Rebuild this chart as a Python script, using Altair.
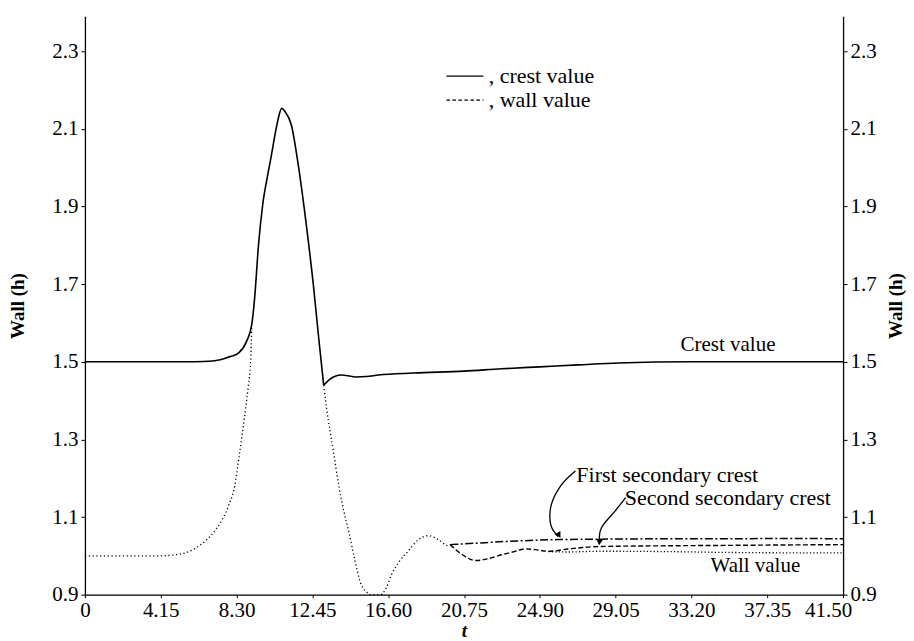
import altair as alt
import pandas as pd

# ---------------- data ----------------
x_ticks = [0, 4.15, 8.30, 12.45, 16.60, 20.75, 24.90, 29.05, 33.20, 37.35, 41.50]
y_ticks = [0.9, 1.1, 1.3, 1.5, 1.7, 1.9, 2.1, 2.3]

crest_t = [0, 3, 6, 7.0, 7.6, 8.0, 8.42, 8.86, 9.13, 9.29, 9.5, 9.73, 10.0, 10.2, 10.44,
           10.6, 10.77, 10.95, 11.3, 11.7, 12.1, 12.5, 12.8, 13.07, 13.4, 13.7, 14.05,
           14.4, 14.8, 15.4, 16.07, 18.0, 20.75, 22.8, 24.9, 27.0, 29.2, 33.2, 37.35, 41.5]
crest_v = [1.5, 1.5, 1.5, 1.502, 1.508, 1.514, 1.523, 1.554, 1.595, 1.664, 1.80, 1.904,
           1.98, 2.03, 2.094, 2.13, 2.153, 2.145, 2.11, 2.0, 1.86, 1.70, 1.56, 1.44, 1.455,
           1.463, 1.466, 1.464, 1.461, 1.462, 1.466, 1.471, 1.476, 1.482, 1.487, 1.492,
           1.497, 1.5, 1.5, 1.5]
crest_break = 13.07  # sharp corner where the crest falls onto the wall value

wall1_t = [0, 1, 2, 3, 4, 5, 5.5, 6.0, 6.6, 7.2, 7.87, 8.2, 8.42, 8.6, 8.8, 8.95, 9.07, 9.13]
wall1_v = [1.0, 1.0, 1.0, 1.0, 1.0, 1.003, 1.008, 1.018, 1.039, 1.07, 1.13, 1.18, 1.25,
           1.31, 1.38, 1.44, 1.50, 1.59]

wall2_t = [13.07, 13.23, 13.6, 13.89, 14.15, 14.43, 14.75, 15.09, 15.4, 15.64, 16.18, 16.5,
           16.78, 17.2, 17.71, 18.26, 18.81, 19.35, 19.9, 20.0]
wall2_v = [1.44, 1.38, 1.27, 1.183, 1.12, 1.065, 0.995, 0.930, 0.908, 0.90, 0.90, 0.918,
           0.951, 0.985, 1.013, 1.042, 1.052, 1.042, 1.026, 1.029]

first_t = [20.0, 20.75, 21.9, 23.0, 24.0, 25.9, 28.0, 31.9, 35.0, 38.0, 41.5]
first_v = [1.029, 1.031, 1.034, 1.037, 1.039, 1.042, 1.043, 1.044, 1.044, 1.045, 1.044]

second_t = [20.0, 20.6, 21.4, 22.1, 22.8, 23.5, 24.1, 24.66, 25.37, 26.5, 28.1, 31.9, 35.0,
            38.0, 41.5]
second_v = [1.029, 1.005, 0.988, 0.993, 1.003, 1.011, 1.018, 1.016, 1.012, 1.018, 1.024,
            1.026, 1.027, 1.028, 1.029]

wall3_t = [25.37, 26.5, 28.1, 31.9, 35.0, 38.0, 41.5]
wall3_v = [1.011, 1.010, 1.012, 1.011, 1.009, 1.008, 1.008]

# annotation texts
center_text = ["Crest value", "Wall value"]
center_t = [35.2, 36.7]
center_v = [1.543, 0.975]
left_text = ["First secondary crest", "Second secondary crest"]
left_t = [26.9, 29.55]
left_v = [1.209, 1.15]

# legend
legend_text = [", crest value", ", wall value"]
legend_text_t = [22.1, 22.1]
legend_v = [2.236, 2.174]
legend_line_t = [19.79, 21.81]

# annotation arrows
arrow1_t = [26.85, 26.08, 25.53, 25.5, 25.9]
arrow1_v = [1.219, 1.183, 1.132, 1.080, 1.050]
arrow2_t = [29.6, 29.03, 28.27, 28.16]
arrow2_v = [1.15, 1.116, 1.072, 1.032]
head_t = [25.95, 28.16]
head_v = [1.053, 1.035]
head_angle = [330, 5]

# ---------------- chart ----------------
FONT = "Liberation Serif"
xscale = alt.Scale(domain=[0, 41.5], nice=False, zero=False)
yscale = alt.Scale(domain=[0.9, 2.39], nice=False, zero=False)

X = alt.X("t:Q", scale=xscale, axis=alt.Axis(
    values=x_ticks, title="t", titleFontStyle="italic", titleFontWeight="bold",
    titleFont=FONT, titleFontSize=19, titlePadding=1, titleColor="black",
    labelExpr="datum.value == 0 ? '0' : format(datum.value, '.2f')",
    labelOffset={"condition": {"test": "datum.value > 41", "value": -15}, "value": 0},
    labelFont=FONT, labelFontSize=21, labelColor="black", labelPadding=2,
    tickSize=3, tickColor="black", domainColor="black", domainWidth=1.3,
    grid=False, labelOverlap=False, labelFlush=False))

Y_none = alt.Y("v:Q", scale=yscale, axis=None)


def frame(t, v):
    return pd.DataFrame({"t": t, "v": v})


def yaxis(orient, pad, baseline):
    return alt.Axis(
        orient=orient, values=y_ticks, format=".1f", title="Wall (h)",
        titleFont=FONT, titleFontWeight="bold", titleFontSize=19, titleColor="black",
        titleAngle=270, titlePadding=pad, titleBaseline=baseline,
        labelFont=FONT, labelFontSize=21, labelColor="black", labelPadding=3,
        tickSize=4, tickColor="black", domainColor="black", domainWidth=1.3,
        grid=False, labelFlush=False)


crest_df = frame(crest_t, crest_v)
crest_a = alt.Chart(crest_df[crest_df.t <= crest_break]).mark_line(
    color="black", strokeWidth=1.6, interpolate="monotone").encode(
    x=X, y=alt.Y("v:Q", scale=yscale, axis=yaxis("left", 24, "bottom")))
crest_b = alt.Chart(crest_df[crest_df.t >= crest_break]).mark_line(
    color="black", strokeWidth=1.6, interpolate="monotone").encode(x=X, y=Y_none)

right_axis = alt.Chart(crest_df).mark_line(
    color="black", strokeWidth=1.6, opacity=0).encode(
    x=X, y=alt.Y("v:Q", scale=yscale, axis=yaxis("right", 10, "top")))

wall1 = alt.Chart(frame(wall1_t, wall1_v)).mark_line(
    color="black", strokeWidth=1.3, strokeDash=[1.2, 2.6], interpolate="monotone").encode(
    x=X, y=Y_none)
wall2 = alt.Chart(frame(wall2_t, wall2_v)).mark_line(
    color="black", strokeWidth=1.3, strokeDash=[1.2, 2.6], interpolate="monotone").encode(
    x=X, y=Y_none)
wall3 = alt.Chart(frame(wall3_t, wall3_v)).mark_line(
    color="black", strokeWidth=1.3, strokeDash=[1.2, 2.2], interpolate="monotone").encode(
    x=X, y=Y_none)
first = alt.Chart(frame(first_t, first_v)).mark_line(
    color="black", strokeWidth=1.5, strokeDash=[8, 2.5, 2, 2.5], interpolate="monotone").encode(
    x=X, y=Y_none)
second = alt.Chart(frame(second_t, second_v)).mark_line(
    color="black", strokeWidth=1.4, strokeDash=[5, 2.5], interpolate="monotone").encode(
    x=X, y=Y_none)

labels_c = alt.Chart(pd.DataFrame({"t": center_t, "v": center_v, "txt": center_text})).mark_text(
    font=FONT, fontSize=21, color="black", baseline="middle", align="center").encode(
    x=X, y=Y_none, text="txt:N")
labels_l = alt.Chart(pd.DataFrame({"t": left_t, "v": left_v, "txt": left_text})).mark_text(
    font=FONT, fontSize=22, color="black", baseline="middle", align="left").encode(
    x=X, y=Y_none, text="txt:N")

arrow_df = pd.concat([
    pd.DataFrame({"t": arrow1_t, "v": arrow1_v, "k": "a", "i": range(len(arrow1_t))}),
    pd.DataFrame({"t": arrow2_t, "v": arrow2_v, "k": "b", "i": range(len(arrow2_t))}),
])
arrows = alt.Chart(arrow_df).mark_line(
    color="black", strokeWidth=1.3, interpolate="cardinal").encode(
    x=X, y=Y_none, detail="k:N", order="i:Q")
heads = alt.Chart(pd.DataFrame({"t": head_t, "v": head_v, "a": head_angle})).mark_point(
    shape="triangle-down", filled=True, color="black", size=45, opacity=1).encode(
    x=X, y=Y_none, angle=alt.Angle("a:Q", scale=None))

legend_lines = alt.Chart(pd.DataFrame({
    "t": legend_line_t + legend_line_t,
    "v": [legend_v[0], legend_v[0], legend_v[1], legend_v[1]],
    "k": ["c", "c", "w", "w"]})).mark_line(color="black", strokeWidth=1.3).encode(
    x=X, y=Y_none, detail="k:N",
    strokeDash=alt.StrokeDash("k:N", scale=alt.Scale(domain=["c", "w"],
                                                    range=[[1, 0], [3.5, 2.5]]),
                              legend=None))
legend_texts = alt.Chart(pd.DataFrame({"t": legend_text_t, "v": legend_v,
                                       "txt": legend_text})).mark_text(
    font=FONT, fontSize=22, color="black", align="left", baseline="middle").encode(
    x=X, y=Y_none, text="txt:N")

chart = alt.layer(
    crest_a, crest_b, right_axis, wall1, wall2, wall3, first, second,
    labels_c, labels_l, arrows, heads, legend_lines, legend_texts
).resolve_axis(y="independent").properties(
    width=759, height=579,
    padding={"left": 0, "top": 8, "right": 0, "bottom": 0},
    background="white"
).configure_view(stroke=None)

chart.save("out.html", embed_options={"renderer": "svg", "actions": False})
